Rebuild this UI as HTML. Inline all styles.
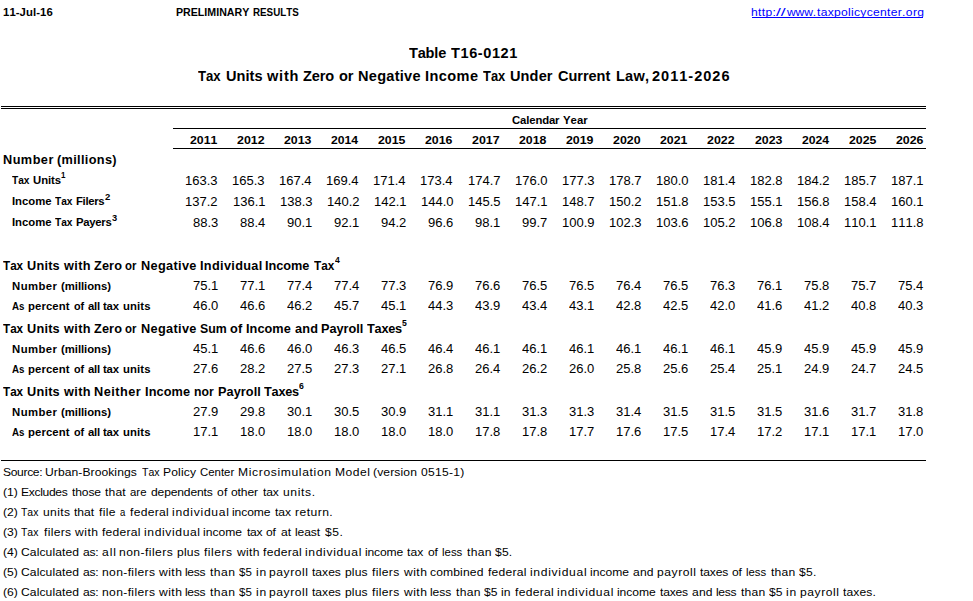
<!DOCTYPE html>
<html><head><meta charset="utf-8"><title>Table T16-0121</title>
<style>
html,body{margin:0;padding:0;background:#fff;}
body{width:973px;height:601px;position:relative;overflow:hidden;font-family:"Liberation Sans",sans-serif;color:#000;}
.t{position:absolute;white-space:nowrap;font-kerning:none;line-height:20px;font-weight:400;}
.b{font-weight:700;}
.l{position:absolute;}
</style></head><body>
<span class="t b" style="left:3.29px;top:2px;font-size:11px;transform:scaleX(1.0300);transform-origin:0 14px;letter-spacing:0.073px;">11-Jul-16</span>
<span class="t b" style="left:175.89px;top:2px;font-size:11px;transform:scaleX(0.9670);transform-origin:0 14px;">PRELIMINARY</span>
<span class="t b" style="left:252.64px;top:2px;font-size:11px;transform:scaleX(0.8909);transform-origin:0 14px;">RESULTS</span>
<span class="t" style="left:751.36px;top:2px;font-size:11px;transform:scaleX(1.1000);transform-origin:0 14px;letter-spacing:0.295px;color:#0000ff;">http:</span>
<span class="t" style="left:776.20px;top:2px;font-size:11px;transform:scaleX(1.5870);transform-origin:0 14px;color:#0000ff;">//</span>
<span class="t" style="left:787.22px;top:2px;font-size:11px;transform:scaleX(1.1000);transform-origin:0 14px;letter-spacing:-0.118px;color:#0000ff;">www.</span>
<span class="t" style="left:816.72px;top:2px;font-size:11px;transform:scaleX(1.1000);transform-origin:0 14px;letter-spacing:0.265px;color:#0000ff;">taxpolicycenter</span>
<span class="t" style="left:901.50px;top:2px;font-size:11px;transform:scaleX(1.1000);transform-origin:0 14px;letter-spacing:0.374px;color:#0000ff;">.org</span>
<div class="l" style="left:752px;top:17px;width:171px;height:1px;background:#0000ff"></div>
<span class="t b" style="left:409.04px;top:43px;font-size:15px;transform:scaleX(0.9700);transform-origin:0 15px;letter-spacing:-0.191px;">Table</span>
<span class="t b" style="left:451.34px;top:43px;font-size:15px;transform:scaleX(0.9700);transform-origin:0 15px;letter-spacing:0.601px;">T16-0121</span>
<span class="t b" style="left:198.35px;top:66px;font-size:15px;transform:scaleX(0.8761);transform-origin:0 15px;">Tax</span>
<span class="t b" style="left:226.23px;top:66px;font-size:15px;transform:scaleX(0.9700);transform-origin:0 15px;letter-spacing:0.025px;">Units</span>
<span class="t b" style="left:267.34px;top:66px;font-size:15px;transform:scaleX(0.9700);transform-origin:0 15px;letter-spacing:0.813px;">with</span>
<span class="t b" style="left:303.07px;top:66px;font-size:15px;transform:scaleX(0.9700);transform-origin:0 15px;letter-spacing:-0.147px;">Zero</span>
<span class="t b" style="left:338.73px;top:66px;font-size:15px;transform:scaleX(0.9700);transform-origin:0 15px;letter-spacing:-0.166px;">or</span>
<span class="t b" style="left:358.43px;top:66px;font-size:15px;transform:scaleX(0.9700);transform-origin:0 15px;letter-spacing:0.283px;">Negative</span>
<span class="t b" style="left:424.83px;top:66px;font-size:15px;transform:scaleX(0.9700);transform-origin:0 15px;letter-spacing:0.419px;">Income</span>
<span class="t b" style="left:482.86px;top:66px;font-size:15px;transform:scaleX(0.8604);transform-origin:0 15px;">Tax</span>
<span class="t b" style="left:510.33px;top:66px;font-size:15px;transform:scaleX(0.9700);transform-origin:0 15px;letter-spacing:0.118px;">Under</span>
<span class="t b" style="left:558.20px;top:66px;font-size:15px;transform:scaleX(0.9700);transform-origin:0 15px;letter-spacing:-0.046px;">Current</span>
<span class="t b" style="left:615.83px;top:66px;font-size:15px;transform:scaleX(0.9700);transform-origin:0 15px;letter-spacing:0.209px;">Law,</span>
<span class="t b" style="left:652.00px;top:66px;font-size:15px;transform:scaleX(0.9700);transform-origin:0 15px;letter-spacing:1.024px;">2011-2026</span>
<div class="l" style="left:1px;top:106px;width:925px;height:1px;background:#000"></div>
<div class="l" style="left:1px;top:108px;width:925px;height:1px;background:#000"></div>
<div class="l" style="left:173px;top:128px;width:753px;height:1px;background:#000"></div>
<div class="l" style="left:173px;top:148px;width:753px;height:1px;background:#000"></div>
<div class="l" style="left:1px;top:460px;width:925px;height:1px;background:#000"></div>
<span class="t b" style="left:511.74px;top:110px;font-size:11px;transform:scaleX(1.0300);transform-origin:0 14px;letter-spacing:-0.132px;">Calendar</span>
<span class="t b" style="left:563.31px;top:110px;font-size:11px;transform:scaleX(1.0300);transform-origin:0 14px;letter-spacing:0.064px;">Year</span>
<span class="t b" style="left:189.97px;top:130px;font-size:11px;transform:scaleX(1.1184);transform-origin:0 14px;">2011</span>
<span class="t b" style="left:237.02px;top:130px;font-size:11px;transform:scaleX(1.1248);transform-origin:0 14px;">2012</span>
<span class="t b" style="left:284.07px;top:130px;font-size:11px;transform:scaleX(1.1227);transform-origin:0 14px;">2013</span>
<span class="t b" style="left:331.12px;top:130px;font-size:11px;transform:scaleX(1.1069);transform-origin:0 14px;">2014</span>
<span class="t b" style="left:378.16px;top:130px;font-size:11px;transform:scaleX(1.1184);transform-origin:0 14px;">2015</span>
<span class="t b" style="left:425.21px;top:130px;font-size:11px;transform:scaleX(1.1227);transform-origin:0 14px;">2016</span>
<span class="t b" style="left:472.25px;top:130px;font-size:11px;transform:scaleX(1.1268);transform-origin:0 14px;">2017</span>
<span class="t b" style="left:519.30px;top:130px;font-size:11px;transform:scaleX(1.1200);transform-origin:0 14px;">2018</span>
<span class="t b" style="left:566.34px;top:130px;font-size:11px;transform:scaleX(1.1233);transform-origin:0 14px;">2019</span>
<span class="t b" style="left:613.39px;top:130px;font-size:11px;transform:scaleX(1.1253);transform-origin:0 14px;">2020</span>
<span class="t b" style="left:660.44px;top:130px;font-size:11px;transform:scaleX(1.1184);transform-origin:0 14px;">2021</span>
<span class="t b" style="left:707.48px;top:130px;font-size:11px;transform:scaleX(1.1248);transform-origin:0 14px;">2022</span>
<span class="t b" style="left:754.53px;top:130px;font-size:11px;transform:scaleX(1.1227);transform-origin:0 14px;">2023</span>
<span class="t b" style="left:801.58px;top:130px;font-size:11px;transform:scaleX(1.1069);transform-origin:0 14px;">2024</span>
<span class="t b" style="left:848.63px;top:130px;font-size:11px;transform:scaleX(1.1184);transform-origin:0 14px;">2025</span>
<span class="t b" style="left:895.67px;top:130px;font-size:11px;transform:scaleX(1.1227);transform-origin:0 14px;">2026</span>
<span class="t b" style="left:3.05px;top:150px;font-size:12px;transform:scaleX(1.0600);transform-origin:0 14px;letter-spacing:0.431px;">Number</span>
<span class="t b" style="left:57.37px;top:150px;font-size:12px;transform:scaleX(1.0600);transform-origin:0 14px;letter-spacing:0.318px;">(millions)</span>
<span class="t b" style="left:3.47px;top:256px;font-size:12px;transform:scaleX(0.9729);transform-origin:0 14px;">Tax</span>
<span class="t b" style="left:26.84px;top:256px;font-size:12px;transform:scaleX(1.0600);transform-origin:0 14px;letter-spacing:0.209px;">Units</span>
<span class="t b" style="left:63.74px;top:256px;font-size:12px;transform:scaleX(1.0600);transform-origin:0 14px;letter-spacing:0.351px;">with</span>
<span class="t b" style="left:93.82px;top:256px;font-size:12px;transform:scaleX(1.0600);transform-origin:0 14px;letter-spacing:0.129px;">Zero</span>
<span class="t b" style="left:125.25px;top:256px;font-size:12px;transform:scaleX(0.9516);transform-origin:0 14px;">or</span>
<span class="t b" style="left:140.75px;top:256px;font-size:12px;transform:scaleX(1.0600);transform-origin:0 14px;letter-spacing:0.318px;">Negative</span>
<span class="t b" style="left:199.85px;top:256px;font-size:12px;transform:scaleX(1.0600);transform-origin:0 14px;letter-spacing:0.303px;">Individual</span>
<span class="t b" style="left:265.45px;top:256px;font-size:12px;transform:scaleX(1.0600);transform-origin:0 14px;letter-spacing:-0.028px;">Income</span>
<span class="t b" style="left:314.37px;top:256px;font-size:12px;transform:scaleX(0.9826);transform-origin:0 14px;">Tax</span>
<span class="t b" style="left:335.17px;top:250px;font-size:9px;transform:scaleX(0.9542);transform-origin:0 13px;">4</span>
<span class="t b" style="left:3.47px;top:319px;font-size:12px;transform:scaleX(0.9729);transform-origin:0 14px;">Tax</span>
<span class="t b" style="left:26.84px;top:319px;font-size:12px;transform:scaleX(1.0600);transform-origin:0 14px;letter-spacing:0.209px;">Units</span>
<span class="t b" style="left:63.74px;top:319px;font-size:12px;transform:scaleX(1.0600);transform-origin:0 14px;letter-spacing:0.351px;">with</span>
<span class="t b" style="left:93.82px;top:319px;font-size:12px;transform:scaleX(1.0600);transform-origin:0 14px;letter-spacing:0.129px;">Zero</span>
<span class="t b" style="left:125.25px;top:319px;font-size:12px;transform:scaleX(0.9516);transform-origin:0 14px;">or</span>
<span class="t b" style="left:140.75px;top:319px;font-size:12px;transform:scaleX(1.0600);transform-origin:0 14px;letter-spacing:0.318px;">Negative</span>
<span class="t b" style="left:199.94px;top:319px;font-size:12px;transform:scaleX(1.0275);transform-origin:0 14px;">Sum</span>
<span class="t b" style="left:230.40px;top:319px;font-size:12px;transform:scaleX(1.0600);transform-origin:0 14px;letter-spacing:0.157px;">of</span>
<span class="t b" style="left:246.05px;top:319px;font-size:12px;transform:scaleX(1.0600);transform-origin:0 14px;letter-spacing:0.048px;">Income</span>
<span class="t b" style="left:294.93px;top:319px;font-size:12px;transform:scaleX(1.0600);transform-origin:0 14px;letter-spacing:0.234px;">and</span>
<span class="t b" style="left:320.95px;top:319px;font-size:12px;transform:scaleX(1.0600);transform-origin:0 14px;letter-spacing:-0.011px;">Payroll</span>
<span class="t b" style="left:366.86px;top:319px;font-size:12px;transform:scaleX(1.0600);transform-origin:0 14px;letter-spacing:-0.213px;">Taxes</span>
<span class="t b" style="left:402.23px;top:313px;font-size:9px;transform:scaleX(0.9602);transform-origin:0 13px;">5</span>
<span class="t b" style="left:3.47px;top:382px;font-size:12px;transform:scaleX(0.9729);transform-origin:0 14px;">Tax</span>
<span class="t b" style="left:26.84px;top:382px;font-size:12px;transform:scaleX(1.0600);transform-origin:0 14px;letter-spacing:0.209px;">Units</span>
<span class="t b" style="left:63.74px;top:382px;font-size:12px;transform:scaleX(1.0600);transform-origin:0 14px;letter-spacing:0.351px;">with</span>
<span class="t b" style="left:94.25px;top:382px;font-size:12px;transform:scaleX(1.0600);transform-origin:0 14px;letter-spacing:0.443px;">Neither</span>
<span class="t b" style="left:145.05px;top:382px;font-size:12px;transform:scaleX(1.0600);transform-origin:0 14px;letter-spacing:0.086px;">Income</span>
<span class="t b" style="left:194.29px;top:382px;font-size:12px;transform:scaleX(1.0187);transform-origin:0 14px;">nor</span>
<span class="t b" style="left:217.85px;top:382px;font-size:12px;transform:scaleX(1.0600);transform-origin:0 14px;letter-spacing:0.052px;">Payroll</span>
<span class="t b" style="left:264.36px;top:382px;font-size:12px;transform:scaleX(1.0600);transform-origin:0 14px;letter-spacing:-0.213px;">Taxes</span>
<span class="t b" style="left:299.38px;top:376px;font-size:9px;transform:scaleX(0.9654);transform-origin:0 13px;">6</span>
<span class="t b" style="left:12.09px;top:170px;font-size:11px;transform:scaleX(0.9226);transform-origin:0 14px;">Tax</span>
<span class="t b" style="left:32.72px;top:170px;font-size:11px;transform:scaleX(1.0300);transform-origin:0 14px;letter-spacing:-0.044px;">Units</span>
<span class="t b" style="left:61.30px;top:165px;font-size:9px;transform:scaleX(0.8835);transform-origin:0 13px;">1</span>
<span class="t b" style="left:11.94px;top:191px;font-size:11px;transform:scaleX(1.0300);transform-origin:0 14px;letter-spacing:-0.023px;">Income</span>
<span class="t b" style="left:55.29px;top:191px;font-size:11px;transform:scaleX(0.9226);transform-origin:0 14px;">Tax</span>
<span class="t b" style="left:76.24px;top:191px;font-size:11px;transform:scaleX(1.0300);transform-origin:0 14px;letter-spacing:-0.331px;">Filers</span>
<span class="t b" style="left:104.67px;top:187px;font-size:9px;transform:scaleX(1.0616);transform-origin:0 13px;">2</span>
<span class="t b" style="left:11.94px;top:212px;font-size:11px;transform:scaleX(1.0300);transform-origin:0 14px;letter-spacing:-0.023px;">Income</span>
<span class="t b" style="left:55.29px;top:212px;font-size:11px;transform:scaleX(0.9226);transform-origin:0 14px;">Tax</span>
<span class="t b" style="left:76.24px;top:212px;font-size:11px;transform:scaleX(1.0300);transform-origin:0 14px;letter-spacing:-0.281px;">Payers</span>
<span class="t b" style="left:111.99px;top:208px;font-size:9px;transform:scaleX(1.0282);transform-origin:0 13px;">3</span>
<span class="t b" style="left:11.94px;top:276px;font-size:11px;transform:scaleX(1.0300);transform-origin:0 14px;letter-spacing:0.431px;">Number</span>
<span class="t b" style="left:61.34px;top:276px;font-size:11px;transform:scaleX(1.0300);transform-origin:0 14px;letter-spacing:-0.035px;">(millions)</span>
<span class="t b" style="left:11.94px;top:339px;font-size:11px;transform:scaleX(1.0300);transform-origin:0 14px;letter-spacing:0.431px;">Number</span>
<span class="t b" style="left:61.34px;top:339px;font-size:11px;transform:scaleX(1.0300);transform-origin:0 14px;letter-spacing:-0.035px;">(millions)</span>
<span class="t b" style="left:11.94px;top:402px;font-size:11px;transform:scaleX(1.0300);transform-origin:0 14px;letter-spacing:0.431px;">Number</span>
<span class="t b" style="left:61.34px;top:402px;font-size:11px;transform:scaleX(1.0300);transform-origin:0 14px;letter-spacing:-0.035px;">(millions)</span>
<span class="t b" style="left:12.46px;top:296px;font-size:11px;transform:scaleX(0.8848);transform-origin:0 14px;">As</span>
<span class="t b" style="left:28.45px;top:296px;font-size:11px;transform:scaleX(1.0300);transform-origin:0 14px;letter-spacing:0.090px;">percent</span>
<span class="t b" style="left:73.68px;top:296px;font-size:11px;transform:scaleX(0.9825);transform-origin:0 14px;">of</span>
<span class="t b" style="left:87.87px;top:296px;font-size:11px;transform:scaleX(1.0300);transform-origin:0 14px;letter-spacing:-0.176px;">all</span>
<span class="t b" style="left:103.46px;top:296px;font-size:11px;transform:scaleX(1.0300);transform-origin:0 14px;letter-spacing:-0.172px;">tax</span>
<span class="t b" style="left:122.90px;top:296px;font-size:11px;transform:scaleX(1.0300);transform-origin:0 14px;letter-spacing:0.122px;">units</span>
<span class="t b" style="left:12.46px;top:359px;font-size:11px;transform:scaleX(0.8848);transform-origin:0 14px;">As</span>
<span class="t b" style="left:28.45px;top:359px;font-size:11px;transform:scaleX(1.0300);transform-origin:0 14px;letter-spacing:0.090px;">percent</span>
<span class="t b" style="left:73.68px;top:359px;font-size:11px;transform:scaleX(0.9825);transform-origin:0 14px;">of</span>
<span class="t b" style="left:87.87px;top:359px;font-size:11px;transform:scaleX(1.0300);transform-origin:0 14px;letter-spacing:-0.176px;">all</span>
<span class="t b" style="left:103.46px;top:359px;font-size:11px;transform:scaleX(1.0300);transform-origin:0 14px;letter-spacing:-0.172px;">tax</span>
<span class="t b" style="left:122.90px;top:359px;font-size:11px;transform:scaleX(1.0300);transform-origin:0 14px;letter-spacing:0.122px;">units</span>
<span class="t b" style="left:12.46px;top:422px;font-size:11px;transform:scaleX(0.8848);transform-origin:0 14px;">As</span>
<span class="t b" style="left:28.45px;top:422px;font-size:11px;transform:scaleX(1.0300);transform-origin:0 14px;letter-spacing:0.090px;">percent</span>
<span class="t b" style="left:73.68px;top:422px;font-size:11px;transform:scaleX(0.9825);transform-origin:0 14px;">of</span>
<span class="t b" style="left:87.87px;top:422px;font-size:11px;transform:scaleX(1.0300);transform-origin:0 14px;letter-spacing:-0.176px;">all</span>
<span class="t b" style="left:103.46px;top:422px;font-size:11px;transform:scaleX(1.0300);transform-origin:0 14px;letter-spacing:-0.172px;">tax</span>
<span class="t b" style="left:122.90px;top:422px;font-size:11px;transform:scaleX(1.0300);transform-origin:0 14px;letter-spacing:0.122px;">units</span>
<span class="t" style="left:185.41px;top:171px;font-size:12px;transform:scaleX(1.0844);transform-origin:0 14px;">163.3</span>
<span class="t" style="left:232.46px;top:171px;font-size:12px;transform:scaleX(1.0844);transform-origin:0 14px;">165.3</span>
<span class="t" style="left:279.31px;top:171px;font-size:12px;transform:scaleX(1.0844);transform-origin:0 14px;">167.4</span>
<span class="t" style="left:326.36px;top:171px;font-size:12px;transform:scaleX(1.0844);transform-origin:0 14px;">169.4</span>
<span class="t" style="left:373.40px;top:171px;font-size:12px;transform:scaleX(1.0844);transform-origin:0 14px;">171.4</span>
<span class="t" style="left:420.45px;top:171px;font-size:12px;transform:scaleX(1.0844);transform-origin:0 14px;">173.4</span>
<span class="t" style="left:467.77px;top:171px;font-size:12px;transform:scaleX(1.0844);transform-origin:0 14px;">174.7</span>
<span class="t" style="left:514.67px;top:171px;font-size:12px;transform:scaleX(1.0844);transform-origin:0 14px;">176.0</span>
<span class="t" style="left:561.78px;top:171px;font-size:12px;transform:scaleX(1.0844);transform-origin:0 14px;">177.3</span>
<span class="t" style="left:608.91px;top:171px;font-size:12px;transform:scaleX(1.0844);transform-origin:0 14px;">178.7</span>
<span class="t" style="left:655.81px;top:171px;font-size:12px;transform:scaleX(1.0844);transform-origin:0 14px;">180.0</span>
<span class="t" style="left:702.73px;top:171px;font-size:12px;transform:scaleX(1.0844);transform-origin:0 14px;">181.4</span>
<span class="t" style="left:749.96px;top:171px;font-size:12px;transform:scaleX(1.0844);transform-origin:0 14px;">182.8</span>
<span class="t" style="left:797.10px;top:171px;font-size:12px;transform:scaleX(1.0844);transform-origin:0 14px;">184.2</span>
<span class="t" style="left:844.14px;top:171px;font-size:12px;transform:scaleX(1.0844);transform-origin:0 14px;">185.7</span>
<span class="t" style="left:891.17px;top:171px;font-size:12px;transform:scaleX(1.0844);transform-origin:0 14px;">187.1</span>
<span class="t" style="left:185.49px;top:192px;font-size:12px;transform:scaleX(1.0844);transform-origin:0 14px;">137.2</span>
<span class="t" style="left:232.52px;top:192px;font-size:12px;transform:scaleX(1.0844);transform-origin:0 14px;">136.1</span>
<span class="t" style="left:279.50px;top:192px;font-size:12px;transform:scaleX(1.0844);transform-origin:0 14px;">138.3</span>
<span class="t" style="left:326.63px;top:192px;font-size:12px;transform:scaleX(1.0844);transform-origin:0 14px;">140.2</span>
<span class="t" style="left:373.66px;top:192px;font-size:12px;transform:scaleX(1.0844);transform-origin:0 14px;">142.1</span>
<span class="t" style="left:420.58px;top:192px;font-size:12px;transform:scaleX(1.0844);transform-origin:0 14px;">144.0</span>
<span class="t" style="left:467.66px;top:192px;font-size:12px;transform:scaleX(1.0844);transform-origin:0 14px;">145.5</span>
<span class="t" style="left:514.80px;top:192px;font-size:12px;transform:scaleX(1.0844);transform-origin:0 14px;">147.1</span>
<span class="t" style="left:561.86px;top:192px;font-size:12px;transform:scaleX(1.0844);transform-origin:0 14px;">148.7</span>
<span class="t" style="left:608.91px;top:192px;font-size:12px;transform:scaleX(1.0844);transform-origin:0 14px;">150.2</span>
<span class="t" style="left:655.87px;top:192px;font-size:12px;transform:scaleX(1.0844);transform-origin:0 14px;">151.8</span>
<span class="t" style="left:702.90px;top:192px;font-size:12px;transform:scaleX(1.0844);transform-origin:0 14px;">153.5</span>
<span class="t" style="left:750.03px;top:192px;font-size:12px;transform:scaleX(1.0844);transform-origin:0 14px;">155.1</span>
<span class="t" style="left:797.01px;top:192px;font-size:12px;transform:scaleX(1.0844);transform-origin:0 14px;">156.8</span>
<span class="t" style="left:843.87px;top:192px;font-size:12px;transform:scaleX(1.0844);transform-origin:0 14px;">158.4</span>
<span class="t" style="left:891.17px;top:192px;font-size:12px;transform:scaleX(1.0844);transform-origin:0 14px;">160.1</span>
<span class="t" style="left:192.65px;top:213px;font-size:12px;transform:scaleX(1.0844);transform-origin:0 14px;">88.3</span>
<span class="t" style="left:239.50px;top:213px;font-size:12px;transform:scaleX(1.0844);transform-origin:0 14px;">88.4</span>
<span class="t" style="left:286.80px;top:213px;font-size:12px;transform:scaleX(1.0844);transform-origin:0 14px;">90.1</span>
<span class="t" style="left:333.85px;top:213px;font-size:12px;transform:scaleX(1.0844);transform-origin:0 14px;">92.1</span>
<span class="t" style="left:380.92px;top:213px;font-size:12px;transform:scaleX(1.0844);transform-origin:0 14px;">94.2</span>
<span class="t" style="left:427.88px;top:213px;font-size:12px;transform:scaleX(1.0844);transform-origin:0 14px;">96.6</span>
<span class="t" style="left:474.99px;top:213px;font-size:12px;transform:scaleX(1.0844);transform-origin:0 14px;">98.1</span>
<span class="t" style="left:522.06px;top:213px;font-size:12px;transform:scaleX(1.0844);transform-origin:0 14px;">99.7</span>
<span class="t" style="left:561.83px;top:213px;font-size:12px;transform:scaleX(1.0844);transform-origin:0 14px;">100.9</span>
<span class="t" style="left:608.83px;top:213px;font-size:12px;transform:scaleX(1.0844);transform-origin:0 14px;">102.3</span>
<span class="t" style="left:655.88px;top:213px;font-size:12px;transform:scaleX(1.0844);transform-origin:0 14px;">103.6</span>
<span class="t" style="left:703.00px;top:213px;font-size:12px;transform:scaleX(1.0844);transform-origin:0 14px;">105.2</span>
<span class="t" style="left:749.96px;top:213px;font-size:12px;transform:scaleX(1.0844);transform-origin:0 14px;">106.8</span>
<span class="t" style="left:796.82px;top:213px;font-size:12px;transform:scaleX(1.0844);transform-origin:0 14px;">108.4</span>
<span class="t" style="left:844.13px;top:213px;font-size:12px;transform:scaleX(1.0844);transform-origin:0 14px;">110.1</span>
<span class="t" style="left:891.10px;top:213px;font-size:12px;transform:scaleX(1.0844);transform-origin:0 14px;">111.8</span>
<span class="t" style="left:192.71px;top:276px;font-size:12px;transform:scaleX(1.0844);transform-origin:0 14px;">75.1</span>
<span class="t" style="left:239.76px;top:276px;font-size:12px;transform:scaleX(1.0844);transform-origin:0 14px;">77.1</span>
<span class="t" style="left:286.55px;top:276px;font-size:12px;transform:scaleX(1.0844);transform-origin:0 14px;">77.4</span>
<span class="t" style="left:333.60px;top:276px;font-size:12px;transform:scaleX(1.0844);transform-origin:0 14px;">77.4</span>
<span class="t" style="left:380.83px;top:276px;font-size:12px;transform:scaleX(1.0844);transform-origin:0 14px;">77.3</span>
<span class="t" style="left:427.92px;top:276px;font-size:12px;transform:scaleX(1.0844);transform-origin:0 14px;">76.9</span>
<span class="t" style="left:474.93px;top:276px;font-size:12px;transform:scaleX(1.0844);transform-origin:0 14px;">76.6</span>
<span class="t" style="left:521.95px;top:276px;font-size:12px;transform:scaleX(1.0844);transform-origin:0 14px;">76.5</span>
<span class="t" style="left:568.99px;top:276px;font-size:12px;transform:scaleX(1.0844);transform-origin:0 14px;">76.5</span>
<span class="t" style="left:615.88px;top:276px;font-size:12px;transform:scaleX(1.0844);transform-origin:0 14px;">76.4</span>
<span class="t" style="left:663.09px;top:276px;font-size:12px;transform:scaleX(1.0844);transform-origin:0 14px;">76.5</span>
<span class="t" style="left:710.16px;top:276px;font-size:12px;transform:scaleX(1.0844);transform-origin:0 14px;">76.3</span>
<span class="t" style="left:757.27px;top:276px;font-size:12px;transform:scaleX(1.0844);transform-origin:0 14px;">76.1</span>
<span class="t" style="left:804.25px;top:276px;font-size:12px;transform:scaleX(1.0844);transform-origin:0 14px;">75.8</span>
<span class="t" style="left:851.38px;top:276px;font-size:12px;transform:scaleX(1.0844);transform-origin:0 14px;">75.7</span>
<span class="t" style="left:898.16px;top:276px;font-size:12px;transform:scaleX(1.0844);transform-origin:0 14px;">75.4</span>
<span class="t" style="left:192.58px;top:296px;font-size:12px;transform:scaleX(1.0844);transform-origin:0 14px;">46.0</span>
<span class="t" style="left:239.69px;top:296px;font-size:12px;transform:scaleX(1.0844);transform-origin:0 14px;">46.6</span>
<span class="t" style="left:286.82px;top:296px;font-size:12px;transform:scaleX(1.0844);transform-origin:0 14px;">46.2</span>
<span class="t" style="left:333.87px;top:296px;font-size:12px;transform:scaleX(1.0844);transform-origin:0 14px;">45.7</span>
<span class="t" style="left:380.90px;top:296px;font-size:12px;transform:scaleX(1.0844);transform-origin:0 14px;">45.1</span>
<span class="t" style="left:427.88px;top:296px;font-size:12px;transform:scaleX(1.0844);transform-origin:0 14px;">44.3</span>
<span class="t" style="left:474.97px;top:296px;font-size:12px;transform:scaleX(1.0844);transform-origin:0 14px;">43.9</span>
<span class="t" style="left:521.78px;top:296px;font-size:12px;transform:scaleX(1.0844);transform-origin:0 14px;">43.4</span>
<span class="t" style="left:569.08px;top:296px;font-size:12px;transform:scaleX(1.0844);transform-origin:0 14px;">43.1</span>
<span class="t" style="left:616.06px;top:296px;font-size:12px;transform:scaleX(1.0844);transform-origin:0 14px;">42.8</span>
<span class="t" style="left:663.09px;top:296px;font-size:12px;transform:scaleX(1.0844);transform-origin:0 14px;">42.5</span>
<span class="t" style="left:710.10px;top:296px;font-size:12px;transform:scaleX(1.0844);transform-origin:0 14px;">42.0</span>
<span class="t" style="left:757.21px;top:296px;font-size:12px;transform:scaleX(1.0844);transform-origin:0 14px;">41.6</span>
<span class="t" style="left:804.34px;top:296px;font-size:12px;transform:scaleX(1.0844);transform-origin:0 14px;">41.2</span>
<span class="t" style="left:851.29px;top:296px;font-size:12px;transform:scaleX(1.0844);transform-origin:0 14px;">40.8</span>
<span class="t" style="left:898.35px;top:296px;font-size:12px;transform:scaleX(1.0844);transform-origin:0 14px;">40.3</span>
<span class="t" style="left:192.71px;top:339px;font-size:12px;transform:scaleX(1.0844);transform-origin:0 14px;">45.1</span>
<span class="t" style="left:239.69px;top:339px;font-size:12px;transform:scaleX(1.0844);transform-origin:0 14px;">46.6</span>
<span class="t" style="left:286.68px;top:339px;font-size:12px;transform:scaleX(1.0844);transform-origin:0 14px;">46.0</span>
<span class="t" style="left:333.79px;top:339px;font-size:12px;transform:scaleX(1.0844);transform-origin:0 14px;">46.3</span>
<span class="t" style="left:380.81px;top:339px;font-size:12px;transform:scaleX(1.0844);transform-origin:0 14px;">46.5</span>
<span class="t" style="left:427.69px;top:339px;font-size:12px;transform:scaleX(1.0844);transform-origin:0 14px;">46.4</span>
<span class="t" style="left:474.99px;top:339px;font-size:12px;transform:scaleX(1.0844);transform-origin:0 14px;">46.1</span>
<span class="t" style="left:522.04px;top:339px;font-size:12px;transform:scaleX(1.0844);transform-origin:0 14px;">46.1</span>
<span class="t" style="left:569.08px;top:339px;font-size:12px;transform:scaleX(1.0844);transform-origin:0 14px;">46.1</span>
<span class="t" style="left:616.13px;top:339px;font-size:12px;transform:scaleX(1.0844);transform-origin:0 14px;">46.1</span>
<span class="t" style="left:663.18px;top:339px;font-size:12px;transform:scaleX(1.0844);transform-origin:0 14px;">46.1</span>
<span class="t" style="left:710.22px;top:339px;font-size:12px;transform:scaleX(1.0844);transform-origin:0 14px;">46.1</span>
<span class="t" style="left:757.25px;top:339px;font-size:12px;transform:scaleX(1.0844);transform-origin:0 14px;">45.9</span>
<span class="t" style="left:804.30px;top:339px;font-size:12px;transform:scaleX(1.0844);transform-origin:0 14px;">45.9</span>
<span class="t" style="left:851.34px;top:339px;font-size:12px;transform:scaleX(1.0844);transform-origin:0 14px;">45.9</span>
<span class="t" style="left:898.39px;top:339px;font-size:12px;transform:scaleX(1.0844);transform-origin:0 14px;">45.9</span>
<span class="t" style="left:192.65px;top:359px;font-size:12px;transform:scaleX(1.0844);transform-origin:0 14px;">27.6</span>
<span class="t" style="left:239.78px;top:359px;font-size:12px;transform:scaleX(1.0844);transform-origin:0 14px;">28.2</span>
<span class="t" style="left:286.71px;top:359px;font-size:12px;transform:scaleX(1.0844);transform-origin:0 14px;">27.5</span>
<span class="t" style="left:333.79px;top:359px;font-size:12px;transform:scaleX(1.0844);transform-origin:0 14px;">27.3</span>
<span class="t" style="left:380.90px;top:359px;font-size:12px;transform:scaleX(1.0844);transform-origin:0 14px;">27.1</span>
<span class="t" style="left:427.87px;top:359px;font-size:12px;transform:scaleX(1.0844);transform-origin:0 14px;">26.8</span>
<span class="t" style="left:474.74px;top:359px;font-size:12px;transform:scaleX(1.0844);transform-origin:0 14px;">26.4</span>
<span class="t" style="left:522.06px;top:359px;font-size:12px;transform:scaleX(1.0844);transform-origin:0 14px;">26.2</span>
<span class="t" style="left:568.96px;top:359px;font-size:12px;transform:scaleX(1.0844);transform-origin:0 14px;">26.0</span>
<span class="t" style="left:616.06px;top:359px;font-size:12px;transform:scaleX(1.0844);transform-origin:0 14px;">25.8</span>
<span class="t" style="left:663.11px;top:359px;font-size:12px;transform:scaleX(1.0844);transform-origin:0 14px;">25.6</span>
<span class="t" style="left:709.97px;top:359px;font-size:12px;transform:scaleX(1.0844);transform-origin:0 14px;">25.4</span>
<span class="t" style="left:757.27px;top:359px;font-size:12px;transform:scaleX(1.0844);transform-origin:0 14px;">25.1</span>
<span class="t" style="left:804.30px;top:359px;font-size:12px;transform:scaleX(1.0844);transform-origin:0 14px;">24.9</span>
<span class="t" style="left:851.38px;top:359px;font-size:12px;transform:scaleX(1.0844);transform-origin:0 14px;">24.7</span>
<span class="t" style="left:898.32px;top:359px;font-size:12px;transform:scaleX(1.0844);transform-origin:0 14px;">24.5</span>
<span class="t" style="left:192.69px;top:402px;font-size:12px;transform:scaleX(1.0844);transform-origin:0 14px;">27.9</span>
<span class="t" style="left:239.69px;top:402px;font-size:12px;transform:scaleX(1.0844);transform-origin:0 14px;">29.8</span>
<span class="t" style="left:286.80px;top:402px;font-size:12px;transform:scaleX(1.0844);transform-origin:0 14px;">30.1</span>
<span class="t" style="left:333.76px;top:402px;font-size:12px;transform:scaleX(1.0844);transform-origin:0 14px;">30.5</span>
<span class="t" style="left:380.88px;top:402px;font-size:12px;transform:scaleX(1.0844);transform-origin:0 14px;">30.9</span>
<span class="t" style="left:427.94px;top:402px;font-size:12px;transform:scaleX(1.0844);transform-origin:0 14px;">31.1</span>
<span class="t" style="left:474.99px;top:402px;font-size:12px;transform:scaleX(1.0844);transform-origin:0 14px;">31.1</span>
<span class="t" style="left:521.97px;top:402px;font-size:12px;transform:scaleX(1.0844);transform-origin:0 14px;">31.3</span>
<span class="t" style="left:569.02px;top:402px;font-size:12px;transform:scaleX(1.0844);transform-origin:0 14px;">31.3</span>
<span class="t" style="left:615.88px;top:402px;font-size:12px;transform:scaleX(1.0844);transform-origin:0 14px;">31.4</span>
<span class="t" style="left:663.09px;top:402px;font-size:12px;transform:scaleX(1.0844);transform-origin:0 14px;">31.5</span>
<span class="t" style="left:710.13px;top:402px;font-size:12px;transform:scaleX(1.0844);transform-origin:0 14px;">31.5</span>
<span class="t" style="left:757.18px;top:402px;font-size:12px;transform:scaleX(1.0844);transform-origin:0 14px;">31.5</span>
<span class="t" style="left:804.25px;top:402px;font-size:12px;transform:scaleX(1.0844);transform-origin:0 14px;">31.6</span>
<span class="t" style="left:851.38px;top:402px;font-size:12px;transform:scaleX(1.0844);transform-origin:0 14px;">31.7</span>
<span class="t" style="left:898.34px;top:402px;font-size:12px;transform:scaleX(1.0844);transform-origin:0 14px;">31.8</span>
<span class="t" style="left:192.71px;top:422px;font-size:12px;transform:scaleX(1.0844);transform-origin:0 14px;">17.1</span>
<span class="t" style="left:239.63px;top:422px;font-size:12px;transform:scaleX(1.0844);transform-origin:0 14px;">18.0</span>
<span class="t" style="left:286.68px;top:422px;font-size:12px;transform:scaleX(1.0844);transform-origin:0 14px;">18.0</span>
<span class="t" style="left:333.72px;top:422px;font-size:12px;transform:scaleX(1.0844);transform-origin:0 14px;">18.0</span>
<span class="t" style="left:380.77px;top:422px;font-size:12px;transform:scaleX(1.0844);transform-origin:0 14px;">18.0</span>
<span class="t" style="left:427.82px;top:422px;font-size:12px;transform:scaleX(1.0844);transform-origin:0 14px;">18.0</span>
<span class="t" style="left:474.92px;top:422px;font-size:12px;transform:scaleX(1.0844);transform-origin:0 14px;">17.8</span>
<span class="t" style="left:521.97px;top:422px;font-size:12px;transform:scaleX(1.0844);transform-origin:0 14px;">17.8</span>
<span class="t" style="left:569.10px;top:422px;font-size:12px;transform:scaleX(1.0844);transform-origin:0 14px;">17.7</span>
<span class="t" style="left:616.07px;top:422px;font-size:12px;transform:scaleX(1.0844);transform-origin:0 14px;">17.6</span>
<span class="t" style="left:663.09px;top:422px;font-size:12px;transform:scaleX(1.0844);transform-origin:0 14px;">17.5</span>
<span class="t" style="left:709.97px;top:422px;font-size:12px;transform:scaleX(1.0844);transform-origin:0 14px;">17.4</span>
<span class="t" style="left:757.29px;top:422px;font-size:12px;transform:scaleX(1.0844);transform-origin:0 14px;">17.2</span>
<span class="t" style="left:804.32px;top:422px;font-size:12px;transform:scaleX(1.0844);transform-origin:0 14px;">17.1</span>
<span class="t" style="left:851.36px;top:422px;font-size:12px;transform:scaleX(1.0844);transform-origin:0 14px;">17.1</span>
<span class="t" style="left:898.28px;top:422px;font-size:12px;transform:scaleX(1.0844);transform-origin:0 14px;">17.0</span>
<span class="t" style="left:2.95px;top:462px;font-size:11px;transform:scaleX(1.1000);transform-origin:0 14px;letter-spacing:-0.325px;">Source:</span>
<span class="t" style="left:45.47px;top:462px;font-size:11px;transform:scaleX(1.1000);transform-origin:0 14px;letter-spacing:0.064px;">Urban-Brookings</span>
<span class="t" style="left:141.56px;top:462px;font-size:11px;transform:scaleX(0.9571);transform-origin:0 14px;">Tax</span>
<span class="t" style="left:163.01px;top:462px;font-size:11px;transform:scaleX(1.1000);transform-origin:0 14px;letter-spacing:0.134px;">Policy</span>
<span class="t" style="left:200.42px;top:462px;font-size:11px;transform:scaleX(1.0349);transform-origin:0 14px;">Center</span>
<span class="t" style="left:238.41px;top:462px;font-size:11px;transform:scaleX(1.1000);transform-origin:0 14px;letter-spacing:0.580px;">Microsimulation</span>
<span class="t" style="left:334.61px;top:462px;font-size:11px;transform:scaleX(1.1000);transform-origin:0 14px;letter-spacing:0.465px;">Model</span>
<span class="t" style="left:373.05px;top:462px;font-size:11px;transform:scaleX(1.1000);transform-origin:0 14px;letter-spacing:0.117px;">(version</span>
<span class="t" style="left:420.73px;top:462px;font-size:11px;transform:scaleX(1.1000);transform-origin:0 14px;letter-spacing:0.230px;">0515-1)</span>
<span class="t" style="left:2.75px;top:482px;font-size:11px;transform:scaleX(1.1000);transform-origin:0 14px;letter-spacing:-0.040px;">(1)</span>
<span class="t" style="left:20.71px;top:482px;font-size:11px;transform:scaleX(1.1000);transform-origin:0 14px;letter-spacing:-0.307px;">Excludes</span>
<span class="t" style="left:71.82px;top:482px;font-size:11px;transform:scaleX(1.1000);transform-origin:0 14px;letter-spacing:-0.132px;">those</span>
<span class="t" style="left:105.12px;top:482px;font-size:11px;transform:scaleX(1.1000);transform-origin:0 14px;letter-spacing:0.148px;">that</span>
<span class="t" style="left:130.22px;top:482px;font-size:11px;transform:scaleX(1.0373);transform-origin:0 14px;">are</span>
<span class="t" style="left:150.69px;top:482px;font-size:11px;transform:scaleX(1.1000);transform-origin:0 14px;letter-spacing:-0.142px;">dependents</span>
<span class="t" style="left:216.59px;top:482px;font-size:11px;transform:scaleX(1.1000);transform-origin:0 14px;letter-spacing:0.272px;">of</span>
<span class="t" style="left:231.49px;top:482px;font-size:11px;transform:scaleX(1.1000);transform-origin:0 14px;letter-spacing:-0.130px;">other</span>
<span class="t" style="left:263.12px;top:482px;font-size:11px;transform:scaleX(1.1000);transform-origin:0 14px;letter-spacing:-0.149px;">tax</span>
<span class="t" style="left:283.01px;top:482px;font-size:11px;transform:scaleX(1.1000);transform-origin:0 14px;letter-spacing:0.558px;">units.</span>
<span class="t" style="left:2.75px;top:502px;font-size:11px;transform:scaleX(1.1000);transform-origin:0 14px;letter-spacing:-0.040px;">(2)</span>
<span class="t" style="left:21.47px;top:502px;font-size:11px;transform:scaleX(0.9459);transform-origin:0 14px;">Tax</span>
<span class="t" style="left:42.91px;top:502px;font-size:11px;transform:scaleX(1.1000);transform-origin:0 14px;letter-spacing:0.333px;">units</span>
<span class="t" style="left:74.32px;top:502px;font-size:11px;transform:scaleX(1.1000);transform-origin:0 14px;letter-spacing:-0.003px;">that</span>
<span class="t" style="left:99.23px;top:502px;font-size:11px;transform:scaleX(1.1000);transform-origin:0 14px;letter-spacing:0.285px;">file</span>
<span class="t" style="left:119.69px;top:502px;font-size:11px;transform:scaleX(0.8672);transform-origin:0 14px;">a</span>
<span class="t" style="left:129.83px;top:502px;font-size:11px;transform:scaleX(1.1000);transform-origin:0 14px;letter-spacing:0.255px;">federal</span>
<span class="t" style="left:171.89px;top:502px;font-size:11px;transform:scaleX(1.1000);transform-origin:0 14px;letter-spacing:0.653px;">individual</span>
<span class="t" style="left:232.19px;top:502px;font-size:11px;transform:scaleX(1.1000);transform-origin:0 14px;letter-spacing:-0.102px;">income</span>
<span class="t" style="left:274.92px;top:502px;font-size:11px;transform:scaleX(1.1000);transform-origin:0 14px;letter-spacing:-0.013px;">tax</span>
<span class="t" style="left:295.10px;top:502px;font-size:11px;transform:scaleX(1.1000);transform-origin:0 14px;letter-spacing:0.415px;">return.</span>
<span class="t" style="left:2.75px;top:522px;font-size:11px;transform:scaleX(1.1000);transform-origin:0 14px;letter-spacing:-0.040px;">(3)</span>
<span class="t" style="left:21.47px;top:522px;font-size:11px;transform:scaleX(0.9459);transform-origin:0 14px;">Tax</span>
<span class="t" style="left:43.53px;top:522px;font-size:11px;transform:scaleX(1.1000);transform-origin:0 14px;letter-spacing:0.284px;">filers</span>
<span class="t" style="left:75.22px;top:522px;font-size:11px;transform:scaleX(1.1000);transform-origin:0 14px;letter-spacing:0.440px;">with</span>
<span class="t" style="left:102.23px;top:522px;font-size:11px;transform:scaleX(1.1000);transform-origin:0 14px;letter-spacing:0.210px;">federal</span>
<span class="t" style="left:143.99px;top:522px;font-size:11px;transform:scaleX(1.1000);transform-origin:0 14px;letter-spacing:0.562px;">individual</span>
<span class="t" style="left:203.39px;top:522px;font-size:11px;transform:scaleX(1.1000);transform-origin:0 14px;letter-spacing:-0.011px;">income</span>
<span class="t" style="left:246.62px;top:522px;font-size:11px;transform:scaleX(1.1000);transform-origin:0 14px;letter-spacing:-0.285px;">tax</span>
<span class="t" style="left:266.49px;top:522px;font-size:11px;transform:scaleX(1.1000);transform-origin:0 14px;letter-spacing:-0.273px;">of</span>
<span class="t" style="left:280.79px;top:522px;font-size:11px;transform:scaleX(1.1000);transform-origin:0 14px;letter-spacing:0.101px;">at</span>
<span class="t" style="left:295.08px;top:522px;font-size:11px;transform:scaleX(1.1000);transform-origin:0 14px;letter-spacing:-0.126px;">least</span>
<span class="t" style="left:324.87px;top:522px;font-size:11px;transform:scaleX(1.1000);transform-origin:0 14px;letter-spacing:0.506px;">$5.</span>
<span class="t" style="left:2.75px;top:542px;font-size:11px;transform:scaleX(1.1000);transform-origin:0 14px;letter-spacing:-0.040px;">(4)</span>
<span class="t" style="left:21.09px;top:542px;font-size:11px;transform:scaleX(1.1000);transform-origin:0 14px;letter-spacing:0.093px;">Calculated</span>
<span class="t" style="left:82.89px;top:542px;font-size:11px;transform:scaleX(1.1000);transform-origin:0 14px;letter-spacing:-0.237px;">as:</span>
<span class="t" style="left:101.89px;top:542px;font-size:11px;transform:scaleX(1.1000);transform-origin:0 14px;letter-spacing:0.872px;">all</span>
<span class="t" style="left:119.30px;top:542px;font-size:11px;transform:scaleX(1.1000);transform-origin:0 14px;letter-spacing:0.402px;">non-filers</span>
<span class="t" style="left:176.82px;top:542px;font-size:11px;transform:scaleX(1.1000);transform-origin:0 14px;letter-spacing:0.188px;">plus</span>
<span class="t" style="left:204.03px;top:542px;font-size:11px;transform:scaleX(1.1000);transform-origin:0 14px;letter-spacing:0.466px;">filers</span>
<span class="t" style="left:236.72px;top:542px;font-size:11px;transform:scaleX(1.1000);transform-origin:0 14px;letter-spacing:0.258px;">with</span>
<span class="t" style="left:263.13px;top:542px;font-size:11px;transform:scaleX(1.1000);transform-origin:0 14px;letter-spacing:0.255px;">federal</span>
<span class="t" style="left:305.19px;top:542px;font-size:11px;transform:scaleX(1.1000);transform-origin:0 14px;letter-spacing:0.593px;">individual</span>
<span class="t" style="left:364.89px;top:542px;font-size:11px;transform:scaleX(1.1000);transform-origin:0 14px;letter-spacing:-0.138px;">income</span>
<span class="t" style="left:407.42px;top:542px;font-size:11px;transform:scaleX(1.1000);transform-origin:0 14px;letter-spacing:0.078px;">tax</span>
<span class="t" style="left:428.09px;top:542px;font-size:11px;transform:scaleX(1.1000);transform-origin:0 14px;letter-spacing:-0.183px;">of</span>
<span class="t" style="left:442.23px;top:542px;font-size:11px;transform:scaleX(1.0368);transform-origin:0 14px;">less</span>
<span class="t" style="left:466.92px;top:542px;font-size:11px;transform:scaleX(1.1000);transform-origin:0 14px;letter-spacing:0.248px;">than</span>
<span class="t" style="left:495.37px;top:542px;font-size:11px;transform:scaleX(1.1000);transform-origin:0 14px;letter-spacing:0.188px;">$5.</span>
<span class="t" style="left:2.75px;top:562px;font-size:11px;transform:scaleX(1.1000);transform-origin:0 14px;letter-spacing:-0.040px;">(5)</span>
<span class="t" style="left:21.09px;top:562px;font-size:11px;transform:scaleX(1.1000);transform-origin:0 14px;letter-spacing:0.093px;">Calculated</span>
<span class="t" style="left:82.89px;top:562px;font-size:11px;transform:scaleX(1.1000);transform-origin:0 14px;letter-spacing:-0.237px;">as:</span>
<span class="t" style="left:101.60px;top:562px;font-size:11px;transform:scaleX(1.1000);transform-origin:0 14px;letter-spacing:0.321px;">non-filers</span>
<span class="t" style="left:159.12px;top:562px;font-size:11px;transform:scaleX(1.1000);transform-origin:0 14px;letter-spacing:0.409px;">with</span>
<span class="t" style="left:185.38px;top:562px;font-size:11px;transform:scaleX(1.1000);transform-origin:0 14px;letter-spacing:-0.323px;">less</span>
<span class="t" style="left:210.22px;top:562px;font-size:11px;transform:scaleX(1.1000);transform-origin:0 14px;letter-spacing:0.430px;">than</span>
<span class="t" style="left:239.28px;top:562px;font-size:11px;transform:scaleX(1.0467);transform-origin:0 14px;">$5</span>
<span class="t" style="left:255.79px;top:562px;font-size:11px;transform:scaleX(1.1000);transform-origin:0 14px;letter-spacing:0.707px;">in</span>
<span class="t" style="left:269.42px;top:562px;font-size:11px;transform:scaleX(1.1000);transform-origin:0 14px;letter-spacing:0.507px;">payroll</span>
<span class="t" style="left:312.42px;top:562px;font-size:11px;transform:scaleX(1.1000);transform-origin:0 14px;">taxes</span>
<span class="t" style="left:345.12px;top:562px;font-size:11px;transform:scaleX(1.1000);transform-origin:0 14px;letter-spacing:0.127px;">plus</span>
<span class="t" style="left:372.13px;top:562px;font-size:11px;transform:scaleX(1.1000);transform-origin:0 14px;letter-spacing:0.302px;">filers</span>
<span class="t" style="left:403.92px;top:562px;font-size:11px;transform:scaleX(1.1000);transform-origin:0 14px;letter-spacing:0.409px;">with</span>
<span class="t" style="left:430.49px;top:562px;font-size:11px;transform:scaleX(1.1000);transform-origin:0 14px;letter-spacing:0.121px;">combined</span>
<span class="t" style="left:487.93px;top:562px;font-size:11px;transform:scaleX(1.1000);transform-origin:0 14px;letter-spacing:0.210px;">federal</span>
<span class="t" style="left:529.69px;top:562px;font-size:11px;transform:scaleX(1.1000);transform-origin:0 14px;letter-spacing:0.623px;">individual</span>
<span class="t" style="left:589.69px;top:562px;font-size:11px;transform:scaleX(1.1000);transform-origin:0 14px;letter-spacing:-0.011px;">income</span>
<span class="t" style="left:632.59px;top:562px;font-size:11px;transform:scaleX(1.1000);transform-origin:0 14px;letter-spacing:0.184px;">and</span>
<span class="t" style="left:656.62px;top:562px;font-size:11px;transform:scaleX(1.1000);transform-origin:0 14px;letter-spacing:0.507px;">payroll</span>
<span class="t" style="left:699.62px;top:562px;font-size:11px;transform:scaleX(1.1000);transform-origin:0 14px;letter-spacing:-0.114px;">taxes</span>
<span class="t" style="left:732.09px;top:562px;font-size:11px;transform:scaleX(1.1000);transform-origin:0 14px;letter-spacing:-0.273px;">of</span>
<span class="t" style="left:746.14px;top:562px;font-size:11px;transform:scaleX(1.0313);transform-origin:0 14px;">less</span>
<span class="t" style="left:770.72px;top:562px;font-size:11px;transform:scaleX(1.1000);transform-origin:0 14px;letter-spacing:0.218px;">than</span>
<span class="t" style="left:799.07px;top:562px;font-size:11px;transform:scaleX(1.1000);transform-origin:0 14px;letter-spacing:0.234px;">$5.</span>
<span class="t" style="left:2.75px;top:582px;font-size:11px;transform:scaleX(1.1000);transform-origin:0 14px;letter-spacing:-0.040px;">(6)</span>
<span class="t" style="left:21.09px;top:582px;font-size:11px;transform:scaleX(1.1000);transform-origin:0 14px;letter-spacing:0.093px;">Calculated</span>
<span class="t" style="left:82.89px;top:582px;font-size:11px;transform:scaleX(1.1000);transform-origin:0 14px;letter-spacing:-0.237px;">as:</span>
<span class="t" style="left:101.60px;top:582px;font-size:11px;transform:scaleX(1.1000);transform-origin:0 14px;letter-spacing:0.321px;">non-filers</span>
<span class="t" style="left:159.12px;top:582px;font-size:11px;transform:scaleX(1.1000);transform-origin:0 14px;letter-spacing:0.409px;">with</span>
<span class="t" style="left:185.38px;top:582px;font-size:11px;transform:scaleX(1.1000);transform-origin:0 14px;letter-spacing:-0.323px;">less</span>
<span class="t" style="left:210.22px;top:582px;font-size:11px;transform:scaleX(1.1000);transform-origin:0 14px;letter-spacing:0.430px;">than</span>
<span class="t" style="left:239.28px;top:582px;font-size:11px;transform:scaleX(1.0467);transform-origin:0 14px;">$5</span>
<span class="t" style="left:255.79px;top:582px;font-size:11px;transform:scaleX(1.1000);transform-origin:0 14px;letter-spacing:0.707px;">in</span>
<span class="t" style="left:269.42px;top:582px;font-size:11px;transform:scaleX(1.1000);transform-origin:0 14px;letter-spacing:0.507px;">payroll</span>
<span class="t" style="left:312.42px;top:582px;font-size:11px;transform:scaleX(1.1000);transform-origin:0 14px;">taxes</span>
<span class="t" style="left:345.12px;top:582px;font-size:11px;transform:scaleX(1.1000);transform-origin:0 14px;letter-spacing:0.127px;">plus</span>
<span class="t" style="left:372.13px;top:582px;font-size:11px;transform:scaleX(1.1000);transform-origin:0 14px;letter-spacing:0.302px;">filers</span>
<span class="t" style="left:403.92px;top:582px;font-size:11px;transform:scaleX(1.1000);transform-origin:0 14px;letter-spacing:0.409px;">with</span>
<span class="t" style="left:430.18px;top:582px;font-size:11px;transform:scaleX(1.1000);transform-origin:0 14px;letter-spacing:-0.080px;">less</span>
<span class="t" style="left:455.82px;top:582px;font-size:11px;transform:scaleX(1.1000);transform-origin:0 14px;letter-spacing:0.248px;">than</span>
<span class="t" style="left:484.27px;top:582px;font-size:11px;transform:scaleX(1.1000);transform-origin:0 14px;letter-spacing:-0.019px;">$5</span>
<span class="t" style="left:501.39px;top:582px;font-size:11px;transform:scaleX(1.1000);transform-origin:0 14px;letter-spacing:0.161px;">in</span>
<span class="t" style="left:515.03px;top:582px;font-size:11px;transform:scaleX(1.1000);transform-origin:0 14px;letter-spacing:0.255px;">federal</span>
<span class="t" style="left:557.09px;top:582px;font-size:11px;transform:scaleX(1.1000);transform-origin:0 14px;letter-spacing:0.593px;">individual</span>
<span class="t" style="left:616.79px;top:582px;font-size:11px;transform:scaleX(1.1000);transform-origin:0 14px;letter-spacing:-0.065px;">income</span>
<span class="t" style="left:659.72px;top:582px;font-size:11px;transform:scaleX(1.1000);transform-origin:0 14px;letter-spacing:-0.182px;">taxes</span>
<span class="t" style="left:691.89px;top:582px;font-size:11px;transform:scaleX(1.1000);transform-origin:0 14px;letter-spacing:0.139px;">and</span>
<span class="t" style="left:715.78px;top:582px;font-size:11px;transform:scaleX(1.1000);transform-origin:0 14px;letter-spacing:-0.323px;">less</span>
<span class="t" style="left:740.62px;top:582px;font-size:11px;transform:scaleX(1.1000);transform-origin:0 14px;letter-spacing:0.218px;">than</span>
<span class="t" style="left:768.97px;top:582px;font-size:11px;transform:scaleX(1.1000);transform-origin:0 14px;letter-spacing:-0.019px;">$5</span>
<span class="t" style="left:786.09px;top:582px;font-size:11px;transform:scaleX(1.1000);transform-origin:0 14px;letter-spacing:0.707px;">in</span>
<span class="t" style="left:799.72px;top:582px;font-size:11px;transform:scaleX(1.1000);transform-origin:0 14px;letter-spacing:0.507px;">payroll</span>
<span class="t" style="left:842.72px;top:582px;font-size:11px;transform:scaleX(1.1000);transform-origin:0 14px;letter-spacing:0.110px;">taxes.</span>
</body></html>
